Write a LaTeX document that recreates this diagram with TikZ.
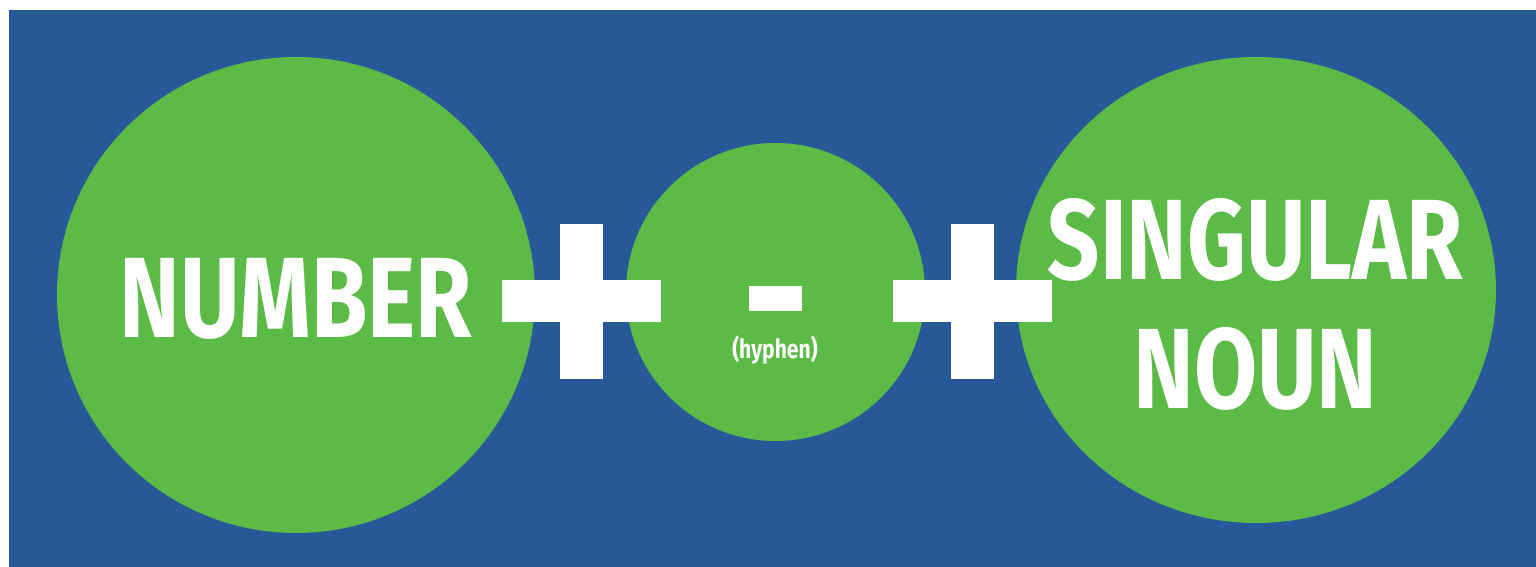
\documentclass[tikz,border=0pt]{standalone}
\usepackage{fontspec}
\newfontfamily\condfont[FakeStretch=0.8]{Fira Sans}
\usetikzlibrary{shapes.geometric, positioning}
\definecolor{bgblue}{RGB}{39,88,152}
\definecolor{ballgreen}{RGB}{92,187,71}
\tikzstyle{ball} = [ellipse, fill=ballgreen, inner sep=0pt]
\tikzstyle{word} = [text=white, font=\condfont\bfseries\fontsize{32.5}{36.7}\selectfont, align=center]
\tikzstyle{note} = [text=white, font=\condfont\bfseries\fontsize{7.5}{9}\selectfont]
\tikzstyle{hbar} = [rectangle, fill=white, minimum width=1.59cm, minimum height=0.42cm, inner sep=0pt]
\tikzstyle{vbar} = [rectangle, fill=white, minimum width=0.43cm, minimum height=1.55cm, inner sep=0pt]
\tikzstyle{hyphenbar} = [rectangle, fill=white, minimum width=0.53cm, minimum height=0.25cm, inner sep=0pt]

\begin{document}
\begin{tikzpicture}
\useasboundingbox (0,0) rectangle (15.36,5.67);
\fill [bgblue] (0.09,0) rectangle (15.36,5.57);

% circles
\node (num) [ball, minimum width=4.78cm, minimum height=4.76cm] at (2.96,2.72) {};
\node (hyp) [ball, minimum width=2.99cm, minimum height=2.98cm] at (7.755,2.75) {};
\node (noun) [ball, minimum width=4.80cm, minimum height=4.66cm] at (12.56,2.77) {};

% plus signs
\node (plusa) [vbar] at (5.815,2.655) {};
\node (plusah) [hbar] at (plusa) {};
\node (plusb) [vbar] at (9.72,2.655) {};
\node (plusbh) [hbar] at (plusb) {};

% texts
\node (numtext) [word] at (2.96,2.685) {NUMBER};
\node (dashbar) [hyphenbar] at (7.755,2.685) {};
\node (hyptext) [note] at (7.75,2.17) {(hyphen)};
\node (nountext) [word] at (12.555,2.63) {SINGULAR\\NOUN};

\end{tikzpicture}
\end{document}
